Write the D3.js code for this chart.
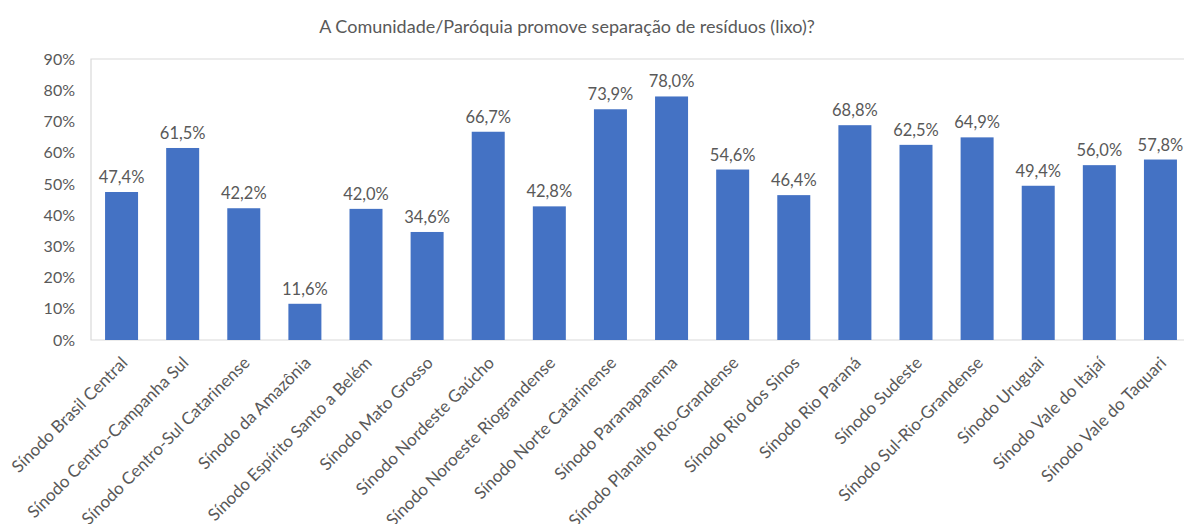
<!DOCTYPE html>
<html>
<head>
<meta charset="utf-8">
<script src="https://cdn.jsdelivr.net/npm/d3@7"></script>
<style>
  html, body { margin: 0; padding: 0; background: #fff; }
  svg { display: block; font-family: Lato, "Open Sans", sans-serif; }
</style>
</head>
<body>
<svg id="chart" width="1184" height="524"></svg>
<script>
// Synod names along the x axis
const categories = [
  "Sínodo Brasil Central",
  "Sínodo Centro-Campanha Sul",
  "Sínodo Centro-Sul Catarinense",
  "Sínodo da Amazônia",
  "Sínodo Espírito Santo a Belém",
  "Sínodo Mato Grosso",
  "Sínodo Nordeste Gaúcho",
  "Sínodo Noroeste Riograndense",
  "Sínodo Norte Catarinense",
  "Sínodo Paranapanema",
  "Sínodo Planalto Rio-Grandense",
  "Sínodo Rio dos Sinos",
  "Sínodo Rio Paraná",
  "Sínodo Sudeste",
  "Sínodo Sul-Rio-Grandense",
  "Sínodo Uruguai",
  "Sínodo Vale do Itajaí",
  "Sínodo Vale do Taquari"
];

// Share of communities that separate waste (percent)
const values = [47.4, 61.5, 42.2, 11.6, 42.0, 34.6, 66.7, 42.8, 73.9, 78.0,
                54.6, 46.4, 68.8, 62.5, 64.9, 49.4, 56.0, 57.8];

// Y axis tick values (percent)
const yTicks = [0, 10, 20, 30, 40, 50, 60, 70, 80, 90];

const title = "A Comunidade/Paróquia promove separação de resíduos (lixo)?";

const svg = d3.select("#chart");
const font = "Lato, 'Open Sans', sans-serif";
const textColor = "#595959";
const barColor = "#4472C4";
const borderColor = "#d9d9d9";

const plot = { left: 91, right: 1191, top: 59, bottom: 340 };

const x = d3.scaleBand()
  .domain(categories)
  .range([plot.left, plot.right])
  .paddingInner(0.46)
  .paddingOuter(0.23);

const y = d3.scaleLinear()
  .domain([0, 90])
  .range([plot.bottom, plot.top]);

// Title
svg.append("text")
  .attr("x", 567)
  .attr("y", 33)
  .attr("text-anchor", "middle")
  .attr("fill", textColor)
  .style("font-size", "18px")
  .text(title);

// Plot area border (left, top, bottom)
svg.append("path")
  .attr("d", `M${plot.right + 10},${plot.top}H${plot.left}V${plot.bottom}H${plot.right + 10}`)
  .attr("fill", "none")
  .attr("stroke", borderColor)
  .attr("stroke-width", 1.2);

// Y axis labels
const yAxis = d3.axisLeft(y)
  .tickValues(yTicks)
  .tickSize(0)
  .tickPadding(0)
  .tickFormat(d => d + "%");

svg.append("g")
  .attr("transform", `translate(${plot.left - 16},0)`)
  .call(yAxis)
  .call(g => g.select(".domain").remove())
  .call(g => g.selectAll("text")
    .attr("fill", textColor)
    .attr("font-family", font)
    .style("font-size", "16px"));

// Bars
svg.append("g")
  .selectAll("rect")
  .data(values)
  .join("rect")
  .attr("x", (d, i) => x(categories[i]))
  .attr("y", d => y(d))
  .attr("width", x.bandwidth())
  .attr("height", d => y(0) - y(d))
  .attr("fill", barColor);

// Value labels above the bars
const fmt = v => v.toFixed(1).replace(".", ",") + "%";
svg.append("g")
  .selectAll("text")
  .data(values)
  .join("text")
  .attr("x", (d, i) => x(categories[i]) + x.bandwidth() / 2)
  .attr("y", d => y(d) - 9)
  .attr("text-anchor", "middle")
  .attr("fill", textColor)
  .style("font-size", "16.5px")
  .text(fmt);

// Category labels, rotated 45 degrees
const xAxis = d3.axisBottom(x).tickSize(0).tickPadding(0);
svg.append("g")
  .attr("transform", `translate(0,${plot.bottom})`)
  .call(xAxis)
  .call(g => g.select(".domain").remove())
  .call(g => g.selectAll("text")
    .attr("fill", textColor)
    .attr("font-family", font)
    .style("font-size", "17px")
    .attr("text-anchor", "end")
    .attr("dy", "0")
    .attr("transform", "translate(7,24) rotate(-45)"));
</script>
</body>
</html>
